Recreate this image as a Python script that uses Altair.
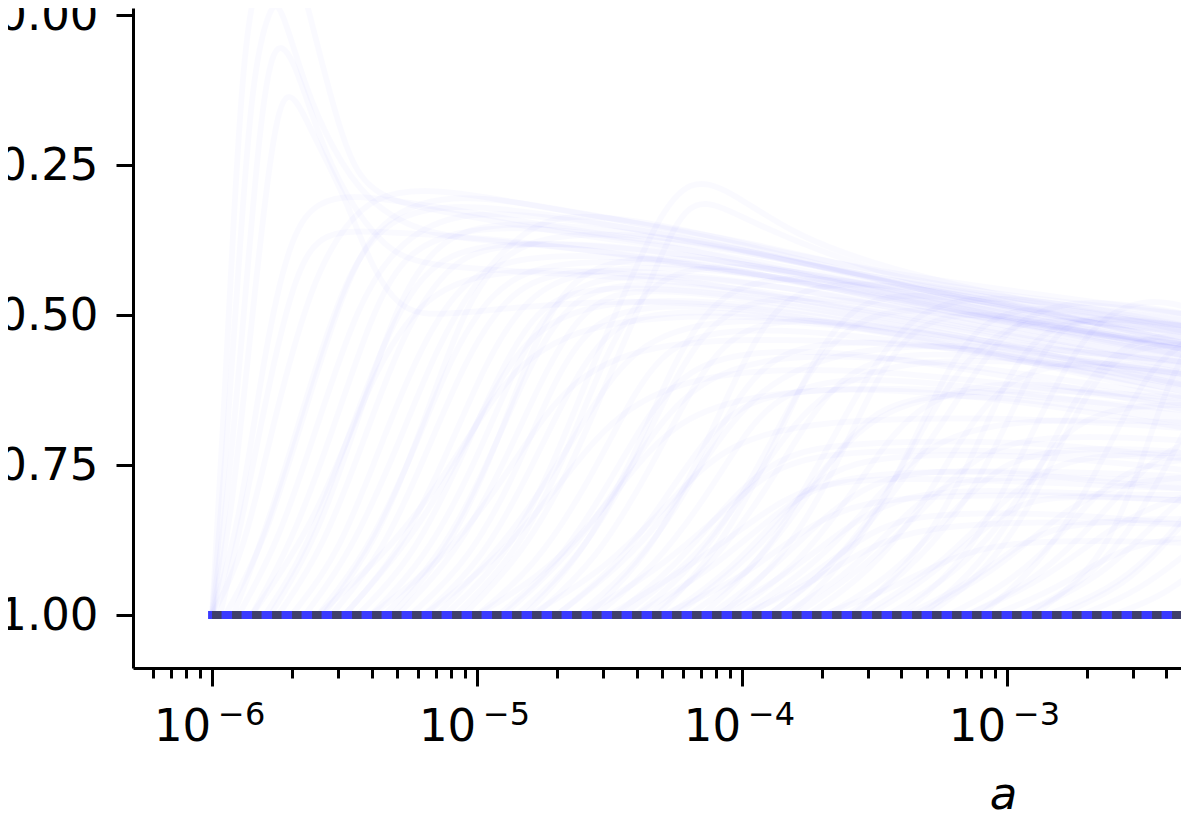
import altair as alt
import pandas as pd

major_exponents = [-6, -5, -4, -3]
minor_ticks = [6e-7, 7e-7, 8e-7, 9e-7,
               2e-6, 3e-6, 4e-6, 5e-6, 6e-6, 7e-6, 8e-6, 9e-6,
               2e-5, 3e-5, 4e-5, 5e-5, 6e-5, 7e-5, 8e-5, 9e-5,
               2e-4, 3e-4, 4e-4, 5e-4, 6e-4, 7e-4, 8e-4, 9e-4,
               2e-3, 3e-3, 4e-3]
y_ticks = [0, -0.25, -0.5, -0.75, -1]
baseline_x = [1e-6, 4.9e-3]
baseline_y = [-1, -1]

# each curve: (log10 a, y)
curves = [
 [(-6,-1),(-5.96,-.7),(-5.92,-.35),(-5.88,-.05),(-5.82,.1),(-5.7,.12),(-5.62,-.02),(-5.55,-.14),(-5.47,-.26),(-5.35,-.31),(-5.1,-.33),(-4.6,-.37),(-4,-.40),(-3,-.5),(-2.3,-.53)],
 [(-6,-1),(-5.95,-.75),(-5.9,-.42),(-5.85,-.1),(-5.78,.02),(-5.74,.02),(-5.65,-.12),(-5.55,-.22),(-5.42,-.31),(-5.2,-.37),(-4.8,-.38),(-4,-.42),(-3,-.52),(-2.3,-.55)],
 [(-6,-1),(-5.94,-.8),(-5.88,-.5),(-5.82,-.18),(-5.77,-.04),(-5.7,-.06),(-5.6,-.2),(-5.5,-.3),(-5.35,-.39),(-5.2,-.42),(-4.7,-.43),(-4,-.45),(-3,-.53),(-2.3,-.58)],
 [(-6,-1),(-5.93,-.85),(-5.86,-.55),(-5.78,-.22),(-5.72,-.1),(-5.62,-.2),(-5.5,-.3),(-5.4,-.42),(-5.28,-.5),(-5.1,-.5),(-4.5,-.47),(-3.8,-.49),(-3,-.56),(-2.3,-.6)],
 [(-6,-1),(-5.9,-.86),(-5.8,-.55),(-5.7,-.36),(-5.6,-.31),(-5.47,-.3),(-5.3,-.31),(-5,-.33),(-4.5,-.37),(-4,-.39),(-3.4,-.45),(-2.3,-.51)],
 [(-6,-1),(-5.88,-.9),(-5.76,-.66),(-5.62,-.44),(-5.5,-.35),(-5.38,-.3),(-5.2,-.29),(-5,-.3),(-4.5,-.34),(-4,-.375),(-3.5,-.43),(-3,-.47),(-2.3,-.5)],
 [(-5.95,-1),(-5.8,-.88),(-5.65,-.66),(-5.5,-.45),(-5.38,-.35),(-5.22,-.31),(-5,-.3),(-4.6,-.33),(-4,-.38),(-3.5,-.44),(-3,-.49),(-2.3,-.52)],
 [(-5.9,-1),(-5.75,-.88),(-5.6,-.68),(-5.45,-.48),(-5.3,-.38),(-5.1,-.33),(-4.8,-.33),(-4.2,-.37),(-3.7,-.42),(-3,-.48),(-2.3,-.51)],
 [(-5.85,-1),(-5.7,-.88),(-5.55,-.7),(-5.4,-.5),(-5.28,-.4),(-5.1,-.36),(-4.8,-.35),(-4.3,-.38),(-3.7,-.44),(-3,-.5),(-2.3,-.54)],
 [(-5.8,-1),(-5.65,-.9),(-5.5,-.72),(-5.35,-.54),(-5.2,-.42),(-5,-.38),(-4.6,-.38),(-4,-.41),(-3.4,-.47),(-2.7,-.53),(-2.3,-.55)],
 [(-5.75,-1),(-5.58,-.89),(-5.42,-.7),(-5.28,-.53),(-5.12,-.42),(-4.95,-.38),(-4.5,-.38),(-3.9,-.42),(-3.3,-.48),(-2.3,-.56)],
 [(-5.7,-1),(-5.52,-.9),(-5.35,-.7),(-5.2,-.54),(-5.05,-.44),(-4.85,-.4),(-4.4,-.4),(-3.8,-.44),(-3.2,-.5),(-2.3,-.55)],
 [(-5.65,-1),(-5.48,-.9),(-5.3,-.72),(-5.15,-.55),(-5,-.44),(-4.85,-.37),(-4.7,-.33),(-4.4,-.34),(-4,-.38),(-3.5,-.43),(-2.3,-.5)],
 [(-5.6,-1),(-5.42,-.9),(-5.25,-.74),(-5.1,-.57),(-4.95,-.46),(-4.75,-.41),(-4.3,-.41),(-3.8,-.44),(-3.1,-.5),(-2.3,-.57)],
 [(-5.55,-1),(-5.36,-.9),(-5.2,-.74),(-5.05,-.58),(-4.9,-.47),(-4.7,-.42),(-4.2,-.43),(-3.6,-.47),(-3,-.53),(-2.3,-.58)],
 [(-5.5,-1),(-5.3,-.9),(-5.13,-.75),(-4.97,-.58),(-4.82,-.47),(-4.6,-.42),(-4.1,-.42),(-3.5,-.46),(-2.9,-.52),(-2.3,-.56)],
 [(-5.45,-1),(-5.25,-.91),(-5.08,-.76),(-4.92,-.6),(-4.78,-.49),(-4.6,-.45),(-4.1,-.46),(-3.5,-.5),(-2.9,-.55),(-2.3,-.6)],
 [(-5.4,-1),(-5.2,-.91),(-5.02,-.76),(-4.87,-.6),(-4.75,-.5),(-4.6,-.44),(-4.3,-.43),(-3.7,-.46),(-3,-.52),(-2.3,-.57)],
 [(-5.35,-1),(-5.15,-.91),(-4.98,-.77),(-4.82,-.6),(-4.68,-.49),(-4.5,-.44),(-4,-.46),(-3.4,-.5),(-2.3,-.59)],
 [(-5.3,-1),(-5.08,-.9),(-4.9,-.75),(-4.75,-.6),(-4.62,-.5),(-4.45,-.45),(-4,-.47),(-3.3,-.52),(-2.3,-.62)],
 [(-5.25,-1),(-5.03,-.91),(-4.85,-.76),(-4.7,-.6),(-4.58,-.52),(-4.4,-.48),(-3.9,-.49),(-3.2,-.55),(-2.3,-.63)],
 [(-5.2,-1),(-4.98,-.91),(-4.8,-.76),(-4.65,-.62),(-4.52,-.53),(-4.35,-.49),(-3.8,-.5),(-3.1,-.56),(-2.3,-.64)],
 [(-5.12,-1),(-4.9,-.91),(-4.72,-.76),(-4.58,-.6),(-4.45,-.47),(-4.32,-.34),(-4.2,-.27),(-4.05,-.29),(-3.8,-.37),(-3.4,-.43),(-2.8,-.49),(-2.3,-.52)],
 [(-5.05,-1),(-4.83,-.9),(-4.65,-.76),(-4.5,-.6),(-4.38,-.48),(-4.25,-.34),(-4.15,-.3),(-3.95,-.35),(-3.5,-.43),(-2.9,-.49),(-2.3,-.52)],
 [(-5,-1),(-4.78,-.92),(-4.58,-.78),(-4.42,-.64),(-4.3,-.56),(-4.1,-.52),(-3.6,-.53),(-3,-.57),(-2.3,-.63)],
 [(-4.92,-1),(-4.7,-.92),(-4.5,-.78),(-4.35,-.66),(-4.2,-.59),(-4,-.56),(-3.6,-.56),(-3,-.6),(-2.3,-.66)],
 [(-4.85,-1),(-4.62,-.91),(-4.42,-.76),(-4.27,-.62),(-4.15,-.53),(-3.98,-.47),(-3.6,-.47),(-3,-.52),(-2.3,-.57)],
 [(-4.78,-1),(-4.55,-.91),(-4.35,-.76),(-4.2,-.63),(-4.08,-.55),(-3.9,-.5),(-3.4,-.52),(-2.8,-.57),(-2.3,-.61)],
 [(-4.7,-1),(-4.47,-.92),(-4.28,-.8),(-4.13,-.7),(-3.98,-.64),(-3.7,-.62),(-3.2,-.63),(-2.7,-.66),(-2.3,-.69)],
 [(-4.62,-1),(-4.4,-.92),(-4.2,-.79),(-4.05,-.66),(-3.92,-.58),(-3.72,-.54),(-3.2,-.55),(-2.7,-.59),(-2.3,-.62)],
 [(-4.55,-1),(-4.33,-.92),(-4.13,-.8),(-3.98,-.69),(-3.85,-.63),(-3.6,-.6),(-3.1,-.62),(-2.6,-.65),(-2.3,-.67)],
 [(-4.48,-1),(-4.25,-.92),(-4.05,-.81),(-3.9,-.75),(-3.75,-.72),(-3.4,-.71),(-2.9,-.71),(-2.3,-.74)],
 [(-4.4,-1),(-4.18,-.92),(-3.98,-.79),(-3.82,-.65),(-3.68,-.55),(-3.5,-.49),(-3.2,-.49),(-2.7,-.54),(-2.3,-.57)],
 [(-4.35,-1),(-4.12,-.92),(-3.92,-.8),(-3.76,-.68),(-3.62,-.6),(-3.42,-.56),(-3,-.57),(-2.5,-.6),(-2.3,-.62)],
 [(-4.28,-1),(-4.05,-.93),(-3.85,-.83),(-3.7,-.77),(-3.55,-.74),(-3.2,-.73),(-2.7,-.74),(-2.3,-.76)],
 [(-4.2,-1),(-3.97,-.93),(-3.78,-.82),(-3.63,-.72),(-3.5,-.66),(-3.3,-.63),(-2.9,-.64),(-2.3,-.68)],
 [(-4.12,-1),(-3.9,-.93),(-3.7,-.84),(-3.55,-.79),(-3.38,-.76),(-3,-.76),(-2.6,-.78),(-2.3,-.79)],
 [(-4.05,-1),(-3.82,-.93),(-3.62,-.82),(-3.47,-.72),(-3.33,-.65),(-3.1,-.61),(-2.7,-.62),(-2.3,-.65)],
 [(-3.98,-1),(-3.75,-.94),(-3.55,-.87),(-3.4,-.84),(-3.2,-.83),(-2.8,-.83),(-2.3,-.85)],
 [(-3.9,-1),(-3.68,-.93),(-3.48,-.82),(-3.33,-.7),(-3.2,-.6),(-3.05,-.53),(-2.85,-.5),(-2.3,-.53)],
 [(-3.85,-1),(-3.62,-.94),(-3.42,-.85),(-3.28,-.79),(-3.1,-.77),(-2.7,-.77),(-2.3,-.78)],
 [(-3.75,-1),(-3.52,-.93),(-3.32,-.82),(-3.18,-.71),(-3.05,-.63),(-2.88,-.58),(-2.5,-.58),(-2.3,-.6)],
 [(-3.68,-1),(-3.45,-.94),(-3.25,-.85),(-3.1,-.78),(-2.95,-.73),(-2.6,-.72),(-2.3,-.73)],
 [(-3.6,-1),(-3.38,-.93),(-3.18,-.83),(-3.04,-.72),(-2.94,-.62),(-2.82,-.53),(-2.7,-.5),(-2.3,-.52)],
 [(-3.52,-1),(-3.3,-.94),(-3.1,-.86),(-2.95,-.81),(-2.75,-.8),(-2.3,-.81)],
 [(-3.45,-1),(-3.22,-.94),(-3.02,-.85),(-2.88,-.75),(-2.75,-.68),(-2.55,-.65),(-2.3,-.65)],
 [(-3.38,-1),(-3.15,-.95),(-2.95,-.88),(-2.8,-.85),(-2.5,-.84),(-2.3,-.84)],
 [(-3.3,-1),(-3.08,-.93),(-2.9,-.81),(-2.78,-.7),(-2.66,-.6),(-2.52,-.55),(-2.3,-.55)],
 [(-3.22,-1),(-3,-.95),(-2.8,-.87),(-2.65,-.79),(-2.5,-.75),(-2.3,-.74)],
 [(-3.15,-1),(-2.92,-.95),(-2.72,-.87),(-2.58,-.8),(-2.42,-.73),(-2.3,-.71)],
 [(-3.05,-1),(-2.83,-.96),(-2.65,-.91),(-2.5,-.88),(-2.3,-.87)],
 [(-2.95,-1),(-2.72,-.95),(-2.55,-.87),(-2.42,-.77),(-2.3,-.67)],
 [(-2.85,-1),(-2.62,-.96),(-2.45,-.9),(-2.3,-.82)],
 [(-2.72,-1),(-2.5,-.96),(-2.3,-.89)],
 [(-2.6,-1),(-2.42,-.97),(-2.3,-.93)],
 [(-5.97,-1),(-5.88,-.83),(-5.78,-.6),(-5.68,-.42),(-5.58,-.36),(-5.4,-.36),(-5,-.37),(-4.4,-.4),(-3.6,-.46),(-2.3,-.56)],
 [(-5.92,-1),(-5.78,-.84),(-5.62,-.6),(-5.48,-.42),(-5.34,-.34),(-5.1,-.31),(-4.6,-.34),(-4,-.39),(-3.2,-.47),(-2.3,-.53)],
 [(-5.78,-1),(-5.6,-.87),(-5.44,-.66),(-5.3,-.48),(-5.16,-.38),(-4.95,-.34),(-4.4,-.36),(-3.8,-.41),(-3,-.49),(-2.3,-.54)],
 [(-5.58,-1),(-5.38,-.88),(-5.2,-.68),(-5.06,-.5),(-4.92,-.4),(-4.7,-.36),(-4.2,-.37),(-3.6,-.43),(-2.9,-.5),(-2.3,-.53)],
 [(-5.32,-1),(-5.1,-.89),(-4.92,-.71),(-4.78,-.54),(-4.65,-.44),(-4.45,-.4),(-4,-.41),(-3.4,-.46),(-2.7,-.53),(-2.3,-.56)],
 [(-5.08,-1),(-4.85,-.9),(-4.66,-.73),(-4.52,-.57),(-4.38,-.46),(-4.18,-.41),(-3.7,-.43),(-3.1,-.49),(-2.3,-.56)],
 [(-4.82,-1),(-4.6,-.9),(-4.4,-.73),(-4.26,-.58),(-4.12,-.48),(-3.92,-.43),(-3.4,-.45),(-2.8,-.51),(-2.3,-.55)],
 [(-4.58,-1),(-4.35,-.9),(-4.16,-.74),(-4,-.58),(-3.87,-.48),(-3.68,-.44),(-3.2,-.46),(-2.6,-.52),(-2.3,-.55)],
 [(-4.32,-1),(-4.1,-.9),(-3.9,-.74),(-3.74,-.58),(-3.6,-.49),(-3.42,-.46),(-3,-.48),(-2.5,-.53),(-2.3,-.55)],
 [(-4.08,-1),(-3.85,-.91),(-3.65,-.76),(-3.5,-.61),(-3.36,-.52),(-3.16,-.49),(-2.7,-.52),(-2.3,-.56)],
 [(-3.82,-1),(-3.6,-.91),(-3.4,-.76),(-3.24,-.6),(-3.1,-.51),(-2.9,-.48),(-2.5,-.51),(-2.3,-.53)],
 [(-3.58,-1),(-3.35,-.91),(-3.15,-.76),(-3,-.6),(-2.86,-.52),(-2.65,-.5),(-2.3,-.52)],
 [(-3.32,-1),(-3.1,-.92),(-2.9,-.78),(-2.75,-.64),(-2.6,-.56),(-2.42,-.53),(-2.3,-.54)],
 [(-3.1,-1),(-2.88,-.92),(-2.68,-.78),(-2.54,-.65),(-2.42,-.57),(-2.3,-.54)],
]

# further curves for the bands visible on the right-hand side
band_curves = [
 [(-4.0,-1),(-3.75,-.95),(-3.5,-.88),(-3.3,-.855),(-3.0,-.845),(-2.6,-.845),(-2.3,-.85)],
 [(-3.7,-1),(-3.45,-.96),(-3.2,-.9),(-3.0,-.88),(-2.7,-.875),(-2.3,-.88)],
 [(-4.3,-1),(-4.0,-.94),(-3.75,-.85),(-3.55,-.81),(-3.2,-.8),(-2.7,-.8),(-2.3,-.81)],
 [(-4.1,-1),(-3.85,-.94),(-3.6,-.85),(-3.4,-.8),(-3.1,-.79),(-2.6,-.8),(-2.3,-.8)],
 [(-4.4,-1),(-4.1,-.92),(-3.85,-.82),(-3.65,-.77),(-3.3,-.76),(-2.8,-.76),(-2.3,-.77)],
 [(-4.6,-1),(-4.3,-.92),(-4.05,-.82),(-3.85,-.74),(-3.5,-.725),(-3.0,-.725),(-2.3,-.74)],
 [(-4.8,-1),(-4.5,-.92),(-4.25,-.8),(-4.05,-.71),(-3.7,-.675),(-3.1,-.67),(-2.6,-.68),(-2.3,-.69)],
 [(-5.0,-1),(-4.7,-.92),(-4.45,-.78),(-4.25,-.67),(-3.9,-.625),(-3.3,-.62),(-2.8,-.64),(-2.3,-.66)],
 [(-5.2,-1),(-4.9,-.9),(-4.65,-.76),(-4.45,-.65),(-4.1,-.59),(-3.5,-.59),(-2.9,-.62),(-2.3,-.65)],
 [(-5.4,-1),(-5.1,-.9),(-4.85,-.74),(-4.65,-.6),(-4.3,-.54),(-3.7,-.54),(-3.0,-.56),(-2.3,-.6)],
 [(-5.6,-1),(-5.3,-.88),(-5.05,-.72),(-4.85,-.57),(-4.5,-.5),(-3.8,-.5),(-3.0,-.55),(-2.3,-.58)],
 [(-4.7,-1),(-4.4,-.9),(-4.15,-.75),(-3.95,-.62),(-3.6,-.55),(-3.0,-.55),(-2.5,-.57),(-2.3,-.58)],
 [(-4.45,-1),(-4.15,-.9),(-3.9,-.74),(-3.7,-.62),(-3.35,-.57),(-2.8,-.58),(-2.3,-.6)],
 [(-4.25,-1),(-3.95,-.9),(-3.7,-.76),(-3.5,-.66),(-3.15,-.62),(-2.6,-.63),(-2.3,-.64)],
 [(-4.0,-1),(-3.7,-.91),(-3.45,-.78),(-3.25,-.7),(-2.9,-.67),(-2.3,-.68)],
 [(-3.8,-1),(-3.5,-.91),(-3.25,-.79),(-3.05,-.71),(-2.7,-.7),(-2.3,-.71)],
 [(-3.55,-1),(-3.25,-.92),(-3.0,-.8),(-2.8,-.74),(-2.5,-.73),(-2.3,-.73)],
 [(-3.35,-1),(-3.05,-.93),(-2.8,-.83),(-2.6,-.78),(-2.3,-.77)],
 [(-3.15,-1),(-2.85,-.94),(-2.6,-.85),(-2.4,-.81),(-2.3,-.8)],
 [(-2.95,-1),(-2.65,-.94),(-2.45,-.85),(-2.3,-.79)],
 [(-2.8,-1),(-2.55,-.95),(-2.4,-.88),(-2.3,-.83)],
 [(-3.9,-1),(-3.6,-.9),(-3.3,-.72),(-3.1,-.58),(-2.95,-.5),(-2.7,-.47),(-2.3,-.5)],
 [(-3.4,-1),(-3.15,-.91),(-2.95,-.74),(-2.8,-.6),(-2.65,-.5),(-2.45,-.47),(-2.3,-.49)],
 [(-2.9,-1),(-2.65,-.92),(-2.5,-.76),(-2.4,-.62),(-2.3,-.54)],
 [(-4.15,-1),(-3.9,-.9),(-3.65,-.7),(-3.45,-.54),(-3.25,-.47),(-2.9,-.47),(-2.3,-.52)],
 [(-5.85,-1),(-5.6,-.84),(-5.4,-.6),(-5.2,-.46),(-4.9,-.42),(-4.3,-.43),(-3.5,-.5),(-2.3,-.59)],
 [(-5.5,-1),(-5.2,-.85),(-4.98,-.66),(-4.8,-.52),(-4.5,-.47),(-3.9,-.48),(-3.1,-.54),(-2.3,-.61)],
 [(-5.15,-1),(-4.85,-.86),(-4.6,-.68),(-4.42,-.55),(-4.1,-.5),(-3.5,-.52),(-2.8,-.58),(-2.3,-.62)],
 [(-4.9,-1),(-4.6,-.88),(-4.35,-.7),(-4.15,-.6),(-3.8,-.56),(-3.2,-.58),(-2.6,-.62),(-2.3,-.64)],
 [(-4.5,-1),(-4.2,-.92),(-3.95,-.84),(-3.75,-.78),(-3.4,-.77),(-2.8,-.78),(-2.3,-.79)],
]

rows = []
for i, curve in enumerate(curves + band_curves):
    for order, (e, y) in enumerate(curve):
        rows.append({"curve": i, "order": order, "a": 10 ** e, "y": y})
df = pd.DataFrame(rows)

x_scale = alt.Scale(type="log", domain=[5.03e-7, 4.54e-3], nice=False)
y_scale = alt.Scale(domain=[-1.0883, 0.0117], nice=False)
FONT = "DejaVu Sans"

y_axis = alt.Axis(
    values=y_ticks, labelExpr="replace(format(datum.value, '.2f'), '-', '−')",
    labelFont=FONT, labelFontSize=45, labelColor="black", labelPadding=18,
    tickSize=17, tickWidth=3, tickColor="black", domainColor="black", domainWidth=3,
    grid=False, title=None)

faint = alt.Chart(df).mark_line(
    color="#0000ff", opacity=0.02, strokeWidth=6, interpolate="basis", clip=True
).encode(
    x=alt.X("a:Q", scale=x_scale, axis=alt.Axis(
        orient="bottom",
        values=[10.0 ** e for e in major_exponents], labelExpr="'10'", labelOffset=-30,
        labelFont=FONT, labelFontSize=45, labelColor="black", labelPadding=18,
        tickSize=18, tickWidth=3, tickColor="black", domainColor="black", domainWidth=3,
        grid=False, title="a", titleFont=FONT, titleFontSize=45, titleFontStyle="italic",
        titleFontWeight="normal", titleColor="black", titleX=870, titleY=104)),
    y=alt.Y("y:Q", scale=y_scale, axis=y_axis),
    detail="curve:N", order="order:Q",
)

minor = alt.Chart(pd.DataFrame({"a": minor_ticks})).mark_point(opacity=0).encode(
    x=alt.X("a:Q", scale=x_scale, axis=alt.Axis(
        orient="bottom", values=minor_ticks, labels=False, domain=False, grid=False, title=None,
        tickSize=10, tickWidth=3, tickColor="black")),
)

base_df = pd.DataFrame({"a": baseline_x, "y": baseline_y})
thick = alt.Chart(base_df).mark_line(color="#3a3aff", strokeWidth=8, strokeCap="square", clip=True).encode(
    x=alt.X("a:Q", scale=x_scale, axis=None), y=alt.Y("y:Q", scale=y_scale, axis=y_axis))
dots = alt.Chart(base_df).mark_line(color="#40406a", strokeWidth=8, strokeDash=[9.5, 10.5], clip=True).encode(
    x=alt.X("a:Q", scale=x_scale, axis=None), y=alt.Y("y:Q", scale=y_scale, axis=y_axis))

sup_df = pd.DataFrame({"a": [10.0 ** e for e in major_exponents],
                       "label": ["−" + str(-e) for e in major_exponents]})
sup = alt.Chart(sup_df).mark_text(
    font=FONT, fontSize=32, align="left", baseline="alphabetic", dx=6, color="black"
).encode(
    x=alt.X("a:Q", scale=x_scale, axis=None), y=alt.value(717), text="label:N")

chart = alt.layer(faint, minor, thick, dots, sup).resolve_axis(x="independent").properties(
    width=1048, height=660,
    autosize=alt.AutoSizeParams(type="none"),
    padding={"left": 125, "top": 0, "right": 0, "bottom": 150},
    background="white",
).configure_view(stroke=None)

chart.save("out.html", embed_options={"renderer": "svg", "actions": False})
